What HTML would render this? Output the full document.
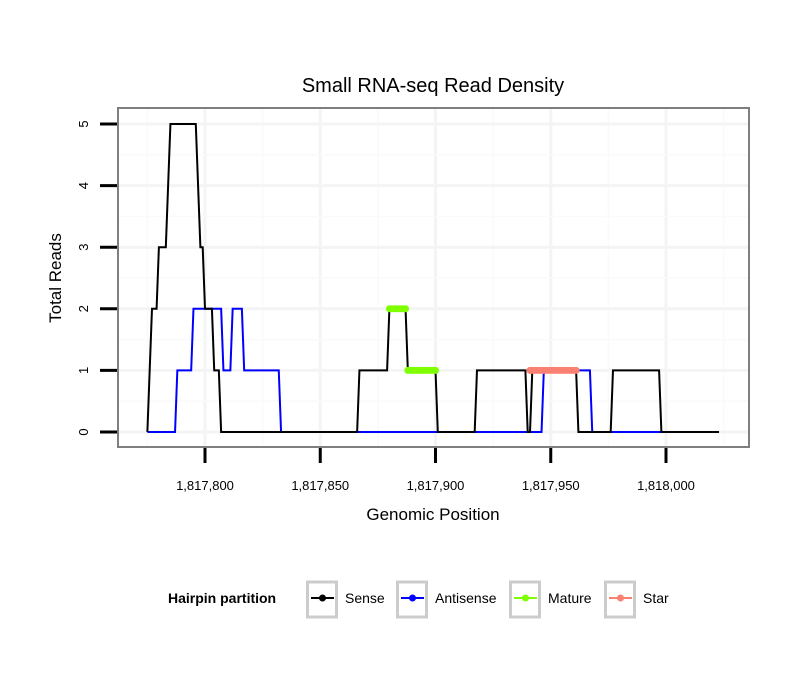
<!DOCTYPE html>
<html><head><meta charset="utf-8"><style>
body{margin:0;background:#fff}
svg{font-family:"Liberation Sans",sans-serif}
</style></head><body>
<svg id="c" width="810" height="690" xmlns="http://www.w3.org/2000/svg">
<rect width="810" height="690" fill="#fff"/>
<text x="433" y="92" text-anchor="middle" font-size="20">Small RNA-seq Read Density</text>
<g id="grid"></g>
<g id="series"></g>
<rect x="118" y="108" width="631" height="339" fill="none" stroke="#7f7f7f" stroke-width="2"/>
<g id="axes"></g>
<text x="433" y="520" text-anchor="middle" font-size="17">Genomic Position</text>
<text transform="translate(61,278) rotate(-90)" text-anchor="middle" font-size="17">Total Reads</text>
<g>
<text x="168" y="603" font-size="14" font-weight="bold">Hairpin partition</text>
<g id="legend"></g>
</g>
</svg>
<script>
const senseX=[1817775,1817777,1817779,1817780,1817783,1817785,1817796,1817798,1817799,1817800,1817803,1817804,1817806,1817807,1817866,1817867,1817879,1817880,1817887,1817888,1817900,1817901,1817917,1817918,1817939,1817940,1817941,1817942,1817961,1817962,1817976,1817977,1817997,1817998,1818023];
const senseY=[0,2,2,3,3,5,5,3,3,2,2,1,1,0,0,1,1,2,2,1,1,0,0,1,1,0,0,1,1,0,0,1,1,0,0];
const antiX=[1817775,1817787,1817788,1817794,1817795,1817807,1817808,1817811,1817812,1817816,1817817,1817832,1817833,1817946,1817947,1817967,1817968,1817998];
const antiY=[0,0,1,1,2,2,1,1,2,2,1,1,0,0,1,1,0,0];
const matureX=[1817880,1817881,1817882,1817883,1817884,1817885,1817886,1817887,1817888,1817889,1817890,1817891,1817892,1817893,1817894,1817895,1817896,1817897,1817898,1817899,1817900];
const matureY=[2,2,2,2,2,2,2,2,1,1,1,1,1,1,1,1,1,1,1,1,1];
const starX=[1817941,1817942,1817943,1817944,1817945,1817946,1817947,1817948,1817949,1817950,1817951,1817952,1817953,1817954,1817955,1817956,1817957,1817958,1817959,1817960,1817961];
const starY=[1,1,1,1,1,1,1,1,1,1,1,1,1,1,1,1,1,1,1,1,1];
const xTicks=[1817800,1817850,1817900,1817950,1818000];
const xTickLabels=["1,817,800","1,817,850","1,817,900","1,817,950","1,818,000"];
const yTicks=[0,1,2,3,4,5];

const NS="http://www.w3.org/2000/svg";
const X=v=>205+(v-1817800)*2.305;
const Y=v=>432-v*61.6;
function mk(tag,attrs,parent){const e=document.createElementNS(NS,tag);for(const k in attrs)e.setAttribute(k,attrs[k]);parent.appendChild(e);return e;}
const grid=document.getElementById('grid'),ser=document.getElementById('series'),ax=document.getElementById('axes'),leg=document.getElementById('legend');
const minorX=[1817775,1817825,1817875,1817925,1817975,1818025];
for(let i=0;i<xTicks.length;i++){
 const gl=mk('line',{x1:X(xTicks[i]),x2:X(xTicks[i]),y1:109,y2:446,stroke:'#f4f4f4','stroke-width':3},grid);
 
 
}
for(let i=0;i<minorX.length;i++){
 const ml=mk('line',{x1:X(minorX[i]),x2:X(minorX[i]),y1:109,y2:446,stroke:'#fafafa','stroke-width':1.5},grid);
 
 
}
for(let i=0;i<yTicks.length;i++){
 const gl=mk('line',{x1:119,x2:748,y1:Y(yTicks[i]),y2:Y(yTicks[i]),stroke:'#f4f4f4','stroke-width':3},grid);
 
 
 if(yTicks[i]<5){
  const ml=mk('line',{x1:119,x2:748,y1:Y(yTicks[i]+0.5),y2:Y(yTicks[i]+0.5),stroke:'#fafafa','stroke-width':1.5},grid);
  
  
 }
}
function line(xs,ys,color,name){
 const p=mk('polyline',{points:xs.map((x,i)=>X(x)+','+Y(ys[i])).join(' '),fill:'none',stroke:color,'stroke-width':2},ser);
 
 
}
line(antiX,antiY,'#0000ff','antisense-line');
line(senseX,senseY,'#000000','sense-line');
function dots(xs,ys,color,name){
 for(let i=0;i<xs.length;i++){
  const c=mk('circle',{cx:X(xs[i]),cy:Y(ys[i]),r:3.5,fill:color},ser);
  
  
 }
}
dots(matureX,matureY,'#7fff00','mature-point');
dots(starX,starY,'#fa8072','star-point');
for(let i=0;i<xTicks.length;i++){
 const t=mk('line',{x1:X(xTicks[i]),x2:X(xTicks[i]),y1:448,y2:463,stroke:'#000','stroke-width':3},ax);
 
 
 const l=mk('text',{x:X(xTicks[i]),y:490,'text-anchor':'middle','font-size':13},ax);
 l.textContent=xTickLabels[i];
 
 
}
for(let i=0;i<yTicks.length;i++){
 const t=mk('line',{x1:100,x2:117,y1:Y(yTicks[i]),y2:Y(yTicks[i]),stroke:'#000','stroke-width':3},ax);
 
 
 const l=mk('text',{transform:'translate(88,'+Y(yTicks[i])+') rotate(-90)','text-anchor':'middle','font-size':13},ax);
 l.textContent=yTicks[i];
 
 
}
const legNames=["Sense","Antisense","Mature","Star"];
const legColors=["#000000","#0000ff","#7fff00","#fa8072"];
const legBox=[306,396,509,604];
for(let i=0;i<4;i++){
 const g=mk('g',{},leg);
 
 
 mk('rect',{x:legBox[i]+1.5,y:582,width:29,height:35,fill:'#fff',stroke:'#cccccc','stroke-width':3},g);
 mk('line',{x1:legBox[i]+5,x2:legBox[i]+28,y1:598,y2:598,stroke:legColors[i],'stroke-width':2},g);
 mk('circle',{cx:legBox[i]+16.5,cy:598,r:3.5,fill:legColors[i]},g);
 const t=mk('text',{x:legBox[i]+39,y:603,'font-size':14},g);
 t.textContent=legNames[i];
}
</script>
</body></html>
